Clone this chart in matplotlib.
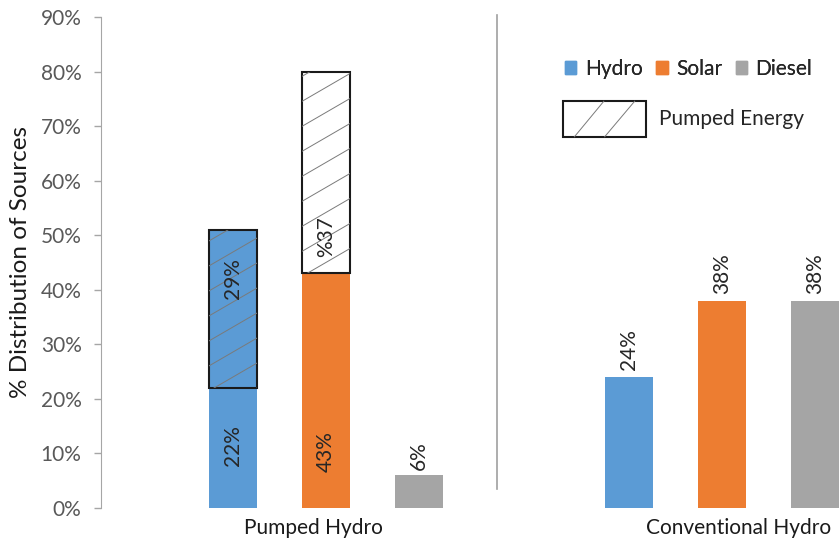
import numpy as np
import matplotlib
matplotlib.use("Agg")
import matplotlib.pyplot as plt
from matplotlib.patches import Patch, Rectangle
from matplotlib.lines import Line2D
from matplotlib.legend_handler import HandlerBase

plt.rcParams['font.family'] = ['Lato', 'DejaVu Sans']

# shares of each source (%)
sources = ['Hydro', 'Solar', 'Diesel']
pumped_direct = [22, 43, 6]
pumped_stored = [29, 37, 0]     # energy passed through pumped storage
conventional = [24, 38, 38]
groups = ['Pumped Hydro', 'Conventional Hydro']
yticks = [0, 10, 20, 30, 40, 50, 60, 70, 80, 90]

colors = ['#5B9BD5', '#ED7D31', '#A5A5A5']
stored_fill = ['#5B9BD5', 'white', 'white']

# x layout (units of one bar step)
group_x = [0.0, 4.258]
offsets = np.array([-1, 0, 1])
bar_w = 0.52
cat_label_x = [-0.13, 4.44]
divider_x = 1.844

fig = plt.figure(figsize=(8.39, 5.43), dpi=100)
ax = fig.add_axes([101/839, 35/543, 738/839, 491/543])
ax.set_xlim(-2.419, 5.516)
ax.set_ylim(0, 90)

x1 = group_x[0] + offsets
x2 = group_x[1] + offsets

ax.bar(x1, pumped_direct, bar_w, color=colors, linewidth=0)
stored_bars = []
for xi, base, h, fc in zip(x1, pumped_direct, pumped_stored, stored_fill):
    if h > 0:
        b = ax.bar(xi, h, bar_w, bottom=base, color=fc,
                   edgecolor='#1a1a1a', linewidth=1.5)
        stored_bars.append(b[0])
ax.bar(x2, conventional, bar_w, color=colors, linewidth=0)

# shallow diagonal hatch drawn as clipped lines
fig.canvas.draw()
to_px = ax.transData
to_data = ax.transData.inverted()
slope, gap = 0.58, 25
for rect in stored_bars:
    (px0, py0), (px1, py1) = to_px.transform(
        [(rect.get_x(), rect.get_y()),
         (rect.get_x() + rect.get_width(), rect.get_y() + rect.get_height())])
    w = px1 - px0
    k = py0 - slope * w
    while k < py1:
        pts = to_data.transform([(px0, k), (px1, k + slope * w)])
        ln = Line2D(pts[:, 0], pts[:, 1], color='#7a7a7a', lw=0.7)
        ax.add_line(ln)
        ln.set_clip_path(rect)
        k += gap
    rect.set_zorder(2)

# value labels
fs = 15
lbl = dict(rotation=90, ha='center', va='center', fontsize=fs, color='#262626')
inner_y = [11.5, 10.3]
ax.text(x1[0], inner_y[0], f'{pumped_direct[0]}%', **lbl)
ax.text(x1[1], inner_y[1], f'{pumped_direct[1]}%', **lbl)
ax.text(x1[0], 42.0, f'{pumped_stored[0]}%', zorder=5, **lbl)
ax.text(x1[1], 49.7, f'%{pumped_stored[1]}', zorder=5, **lbl)
ax.annotate(f'{pumped_direct[2]}%', (x1[2], pumped_direct[2]), xytext=(0, 4),
            textcoords='offset points', rotation=90, ha='center', va='bottom',
            fontsize=fs, color='#262626')
for xi, v in zip(x2, conventional):
    ax.annotate(f'{v}%', (xi, v), xytext=(0, 5), textcoords='offset points',
                rotation=90, ha='center', va='bottom', fontsize=fs, color='#262626')

# separator between the two scenarios
ax.plot([divider_x, divider_x], [3.5, 90.4], color='#A0A0A0', lw=1.2, clip_on=False)

# axes styling
for s in ['top', 'right', 'bottom']:
    ax.spines[s].set_visible(False)
ax.spines['left'].set_color('#A6A6A6')
ax.set_yticks(yticks)
ax.set_yticklabels([f'{t}%' for t in yticks])
ax.tick_params(axis='y', length=5, width=1, color='#A6A6A6', pad=9,
               labelsize=fs, labelcolor='#595959')
ax.set_xticks(cat_label_x)
ax.set_xticklabels(groups)
ax.tick_params(axis='x', length=0, pad=7, labelsize=fs, labelcolor='#1a1a1a')
ax.set_ylabel('% Distribution of Sources', fontsize=17.5, color='#1a1a1a')
ax.yaxis.set_label_coords(-0.095, 0.5)


class StoredHandler(HandlerBase):
    def create_artists(self, legend, orig_handle, xd, yd, width, height, fontsize, trans):
        box = Rectangle((-xd, -yd), width, height, facecolor='white',
                        edgecolor='#1a1a1a', lw=1.5, transform=trans)
        arts = [box]
        for b, t in [(0.137, 0.49), (0.5, 0.86)]:
            arts.append(Line2D([-xd + b * width, -xd + t * width],
                               [-yd, -yd + height], color='#7a7a7a', lw=0.7,
                               transform=trans))
        return arts


src_handles = [Patch(color=c) for c in colors]
leg1 = fig.legend(src_handles, sources, loc='center left',
                  bbox_to_anchor=(565/839, 1 - 69/543), ncol=3, frameon=False,
                  fontsize=fs, handlelength=0.55, handleheight=0.55,
                  handletextpad=0.4, columnspacing=0.65, borderpad=0,
                  borderaxespad=0, labelcolor='#262626')
leg2 = fig.legend([Patch()], ['Pumped Energy'], handler_map={Patch: StoredHandler()},
                  loc='center left', bbox_to_anchor=(563/839, 1 - 119/543),
                  frameon=False, fontsize=fs, handlelength=4.0, handleheight=2.25,
                  handletextpad=0.6, borderpad=0, borderaxespad=0,
                  labelcolor='#262626')
fig.add_artist(leg1)

fig.savefig('out.png', dpi=100)
